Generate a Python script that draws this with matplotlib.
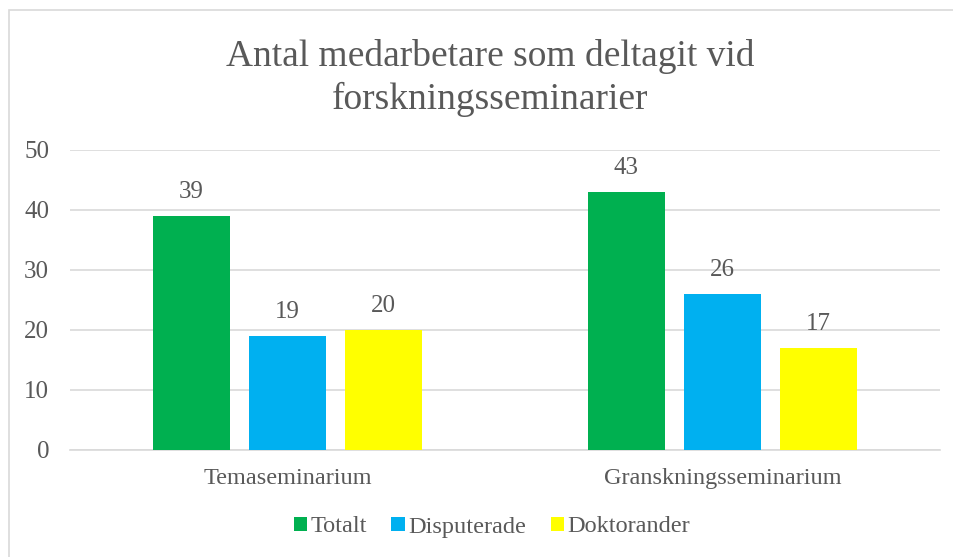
import matplotlib.pyplot as plt
import numpy as np
from matplotlib.patches import Rectangle

# data
categories = ['Temaseminarium', 'Granskningsseminarium']
series_names = ['Totalt', 'Disputerade', 'Doktorander']
totalt = [39, 43]
disputerade = [19, 26]
doktorander = [20, 17]
colors = ['#00b050', '#00b0f0', '#ffff00']

plt.rcParams['font.family'] = ['Liberation Serif', 'DejaVu Serif']
txt = '#595959'

fig = plt.figure(figsize=(9.54, 5.57), dpi=100)
ax = fig.add_axes([70 / 954, 1 - 450 / 557, 870 / 954, 300 / 557])

x = np.arange(len(categories))
w = 0.177
step = 0.2207
for i, (vals, name) in enumerate(zip([totalt, disputerade, doktorander], series_names)):
    bars = ax.bar(x + (i - 1) * step, vals, w, color=colors[i], label=name, zorder=3)
    ax.bar_label(bars, padding=9, fontsize=18, color=txt)

ax.set_xlim(-0.5, 1.5)
ax.set_ylim(0, 50)
ax.set_yticks(range(0, 51, 10))
ax.set_xticks(x)
ax.set_xticklabels(categories, fontsize=17.5, color=txt)
ax.tick_params(axis='y', length=0, pad=15, labelsize=18, labelcolor=txt)
ax.tick_params(axis='x', length=0, pad=13)
ax.grid(axis='y', color='#d9d9d9', linewidth=1.2, zorder=0)
for s in ['top', 'right', 'left']:
    ax.spines[s].set_visible(False)
ax.spines['bottom'].set_color('#d9d9d9')
ax.spines['bottom'].set_linewidth(1.2)

fig.text(490 / 954, 1 - 78 / 557, 'Antal medarbetare som deltagit vid\nforskningsseminarier',
         ha='center', va='center', fontsize=27, color=txt, linespacing=1.3)

fig.legend(loc='center', bbox_to_anchor=(492 / 954, 1 - 527 / 557), ncol=3, frameon=False,
           fontsize=17.5, labelcolor=txt, handlelength=0.55, handleheight=0.55,
           handletextpad=0.15, columnspacing=1.0)

# chart border
fig.patches.append(Rectangle((9 / 954, -0.05), 1.0, 1 - 10 / 557 + 0.05, transform=fig.transFigure,
                             fill=False, edgecolor='#d9d9d9', linewidth=1.2))

plt.savefig('out.png', dpi=100)
